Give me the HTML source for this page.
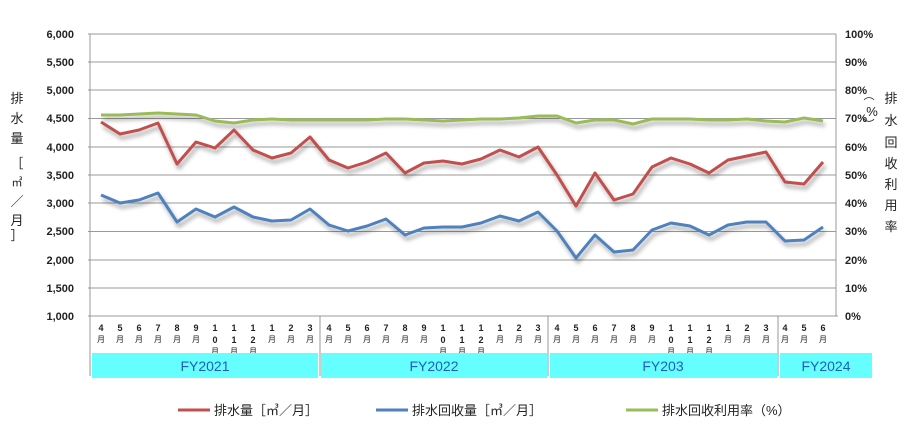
<!DOCTYPE html>
<html><head><meta charset="utf-8"><style>
body{margin:0;background:#fff;}
svg{display:block;font-family:"Liberation Sans","Noto Sans CJK JP",sans-serif;}
.m{font-size:9px;font-weight:bold;fill:#222;text-anchor:middle}
.y{font-size:8px;fill:#222;text-anchor:middle}
</style></head><body>
<svg width="916" height="441" viewBox="0 0 916 441" xmlns="http://www.w3.org/2000/svg">
<defs><filter id="sh" x="-5%" y="-20%" width="110%" height="140%"><feDropShadow dx="2" dy="4" stdDeviation="2.2" flood-color="#000" flood-opacity="0.35"/></filter></defs>
<g stroke="#999" stroke-width="1">
<line x1="88" y1="34" x2="836" y2="34"/><line x1="88" y1="62" x2="836" y2="62"/><line x1="88" y1="90" x2="836" y2="90"/><line x1="88" y1="118.5" x2="836" y2="118.5"/><line x1="88" y1="147" x2="836" y2="147"/><line x1="88" y1="175" x2="836" y2="175"/><line x1="88" y1="203" x2="836" y2="203"/><line x1="88" y1="231.5" x2="836" y2="231.5"/><line x1="88" y1="260" x2="836" y2="260"/><line x1="88" y1="288" x2="836" y2="288"/><line x1="88" y1="316" x2="838" y2="316"/>
<line x1="90" y1="34" x2="90" y2="376"/><line x1="836" y1="34" x2="836" y2="316"/>
<line x1="320" y1="316" x2="320" y2="376"/><line x1="548" y1="316" x2="548" y2="376"/><line x1="778" y1="316" x2="778" y2="376"/>
</g>
<g font-size="11" font-weight="bold" fill="#222" text-anchor="end">
<text x="74" y="38">6,000</text><text x="74" y="66">5,500</text><text x="74" y="94">5,000</text><text x="74" y="122">4,500</text><text x="74" y="151">4,000</text><text x="74" y="179">3,500</text><text x="74" y="207">3,000</text><text x="74" y="235">2,500</text><text x="74" y="264">2,000</text><text x="74" y="292">1,500</text><text x="74" y="320">1,000</text>
</g>
<g font-size="11" font-weight="bold" fill="#222">
<text x="845" y="38">100%</text><text x="845" y="66">90%</text><text x="845" y="94">80%</text><text x="845" y="122">70%</text><text x="845" y="151">60%</text><text x="845" y="179">50%</text><text x="845" y="207">40%</text><text x="845" y="235">30%</text><text x="845" y="264">20%</text><text x="845" y="292">10%</text><text x="845" y="320">0%</text>
</g>
<g font-size="13" fill="#222" text-anchor="middle">
<text x="17" y="103">排</text><text x="17" y="123">水</text><text x="17" y="143">量</text>
<text x="17" y="168">［</text><text x="17" y="186" font-size="11">㎥</text><text x="17" y="206">／</text><text x="17" y="225">月</text><text x="17" y="240">］</text>
<text x="891" y="103">排</text><text x="891" y="125">水</text><text x="891" y="147">回</text><text x="891" y="168">收</text><text x="891" y="189">利</text><text x="891" y="210">用</text><text x="891" y="231">率</text>
<text x="869" y="99" font-size="11">︵</text><text x="872" y="116" font-size="13">%</text><text x="869" y="128" font-size="11">︶</text>
</g>
<g>
<text class="m" x="101" y="331">4</text><text class="y" x="101" y="342">月</text>
<text class="m" x="120" y="331">5</text><text class="y" x="120" y="342">月</text>
<text class="m" x="139" y="331">6</text><text class="y" x="139" y="342">月</text>
<text class="m" x="158" y="331">7</text><text class="y" x="158" y="342">月</text>
<text class="m" x="177" y="331">8</text><text class="y" x="177" y="342">月</text>
<text class="m" x="196" y="331">9</text><text class="y" x="196" y="342">月</text>
<text class="m" x="215" y="331">1</text><text class="m" x="215" y="343">0</text><text class="y" x="215" y="354">月</text>
<text class="m" x="234" y="331">1</text><text class="m" x="234" y="343">1</text><text class="y" x="234" y="354">月</text>
<text class="m" x="253" y="331">1</text><text class="m" x="253" y="343">2</text><text class="y" x="253" y="354">月</text>
<text class="m" x="272" y="331">1</text><text class="y" x="272" y="342">月</text>
<text class="m" x="291" y="331">2</text><text class="y" x="291" y="342">月</text>
<text class="m" x="310" y="331">3</text><text class="y" x="310" y="342">月</text>

<text class="m" x="329" y="331">4</text><text class="y" x="329" y="342">月</text>
<text class="m" x="348" y="331">5</text><text class="y" x="348" y="342">月</text>
<text class="m" x="367" y="331">6</text><text class="y" x="367" y="342">月</text>
<text class="m" x="386" y="331">7</text><text class="y" x="386" y="342">月</text>
<text class="m" x="405" y="331">8</text><text class="y" x="405" y="342">月</text>
<text class="m" x="424" y="331">9</text><text class="y" x="424" y="342">月</text>
<text class="m" x="443" y="331">1</text><text class="m" x="443" y="343">0</text><text class="y" x="443" y="354">月</text>
<text class="m" x="462" y="331">1</text><text class="m" x="462" y="343">1</text><text class="y" x="462" y="354">月</text>
<text class="m" x="481" y="331">1</text><text class="m" x="481" y="343">2</text><text class="y" x="481" y="354">月</text>
<text class="m" x="500" y="331">1</text><text class="y" x="500" y="342">月</text>
<text class="m" x="519" y="331">2</text><text class="y" x="519" y="342">月</text>
<text class="m" x="538" y="331">3</text><text class="y" x="538" y="342">月</text>

<text class="m" x="557" y="331">4</text><text class="y" x="557" y="342">月</text>
<text class="m" x="576" y="331">5</text><text class="y" x="576" y="342">月</text>
<text class="m" x="595" y="331">6</text><text class="y" x="595" y="342">月</text>
<text class="m" x="614" y="331">7</text><text class="y" x="614" y="342">月</text>
<text class="m" x="633" y="331">8</text><text class="y" x="633" y="342">月</text>
<text class="m" x="652" y="331">9</text><text class="y" x="652" y="342">月</text>
<text class="m" x="671" y="331">1</text><text class="m" x="671" y="343">0</text><text class="y" x="671" y="354">月</text>
<text class="m" x="690" y="331">1</text><text class="m" x="690" y="343">1</text><text class="y" x="690" y="354">月</text>
<text class="m" x="709" y="331">1</text><text class="m" x="709" y="343">2</text><text class="y" x="709" y="354">月</text>
<text class="m" x="728" y="331">1</text><text class="y" x="728" y="342">月</text>
<text class="m" x="747" y="331">2</text><text class="y" x="747" y="342">月</text>
<text class="m" x="766" y="331">3</text><text class="y" x="766" y="342">月</text>

<text class="m" x="785" y="331">4</text><text class="y" x="785" y="342">月</text>
<text class="m" x="804" y="331">5</text><text class="y" x="804" y="342">月</text>
<text class="m" x="823" y="331">6</text><text class="y" x="823" y="342">月</text>
</g>
<rect x="92" y="353" width="226" height="25" fill="#66FFFF"/>
<rect x="321" y="353" width="226" height="25" fill="#66FFFF"/>
<rect x="550" y="353" width="227" height="25" fill="#66FFFF"/>
<rect x="780" y="353" width="92" height="25" fill="#66FFFF"/>
<g font-size="14" fill="#1f5fbf" text-anchor="middle">
<text x="205" y="371">FY2021</text><text x="434" y="371">FY2022</text><text x="663" y="371">FY203</text><text x="826" y="371">FY2024</text>
</g>
<g fill="none" stroke-width="3" stroke-linejoin="round" filter="url(#sh)">
<polyline stroke="#9BBB59" points="101,115 120,115 139,114 158,113 177,114 196,115 215,121 234,123 253,120 272,119 291,120 310,120 329,120 348,120 367,120 386,119 405,119 424,120 443,121 462,120 481,119 500,119 519,118 538,116 557,116 576,123 595,120 614,120 633,124 652,119 671,119 690,119 709,120 728,120 747,119 766,121 785,122 804,118 823,121"/>
<polyline stroke="#C0504D" points="101,122 120,134 139,130 158,123 177,164 196,142 215,148 234,130 253,150 272,158 291,153 310,137 329,160 348,168 367,162 386,153 405,173 424,163 443,161 462,164 481,159 500,150 519,157 538,147 557,175 576,206 595,173 614,200 633,194 652,167 671,158 690,164 709,173 728,160 747,156 766,152 785,182 804,184 823,162"/>
<polyline stroke="#4F81BD" points="101,195 120,203 139,200 158,193 177,222 196,209 215,217 234,207 253,217 272,221 291,220 310,209 329,225 348,231 367,226 386,219 405,235 424,228 443,227 462,227 481,223 500,216 519,221 538,212 557,231 576,258 595,235 614,252 633,250 652,230 671,223 690,226 709,235 728,225 747,222 766,222 785,241 804,240 823,227"/>
</g>
<g font-size="13" fill="#222">
<line x1="178" y1="410" x2="210" y2="410" stroke="#C0504D" stroke-width="3"/><text x="214" y="415">排水量［㎥／月］</text>
<line x1="376" y1="410" x2="408" y2="410" stroke="#4F81BD" stroke-width="3"/><text x="412" y="415">排水回收量［㎥／月］</text>
<line x1="626" y1="410" x2="658" y2="410" stroke="#9BBB59" stroke-width="3"/><text x="662" y="415">排水回收利用率（%）</text>
</g>
</svg>
</body></html>
